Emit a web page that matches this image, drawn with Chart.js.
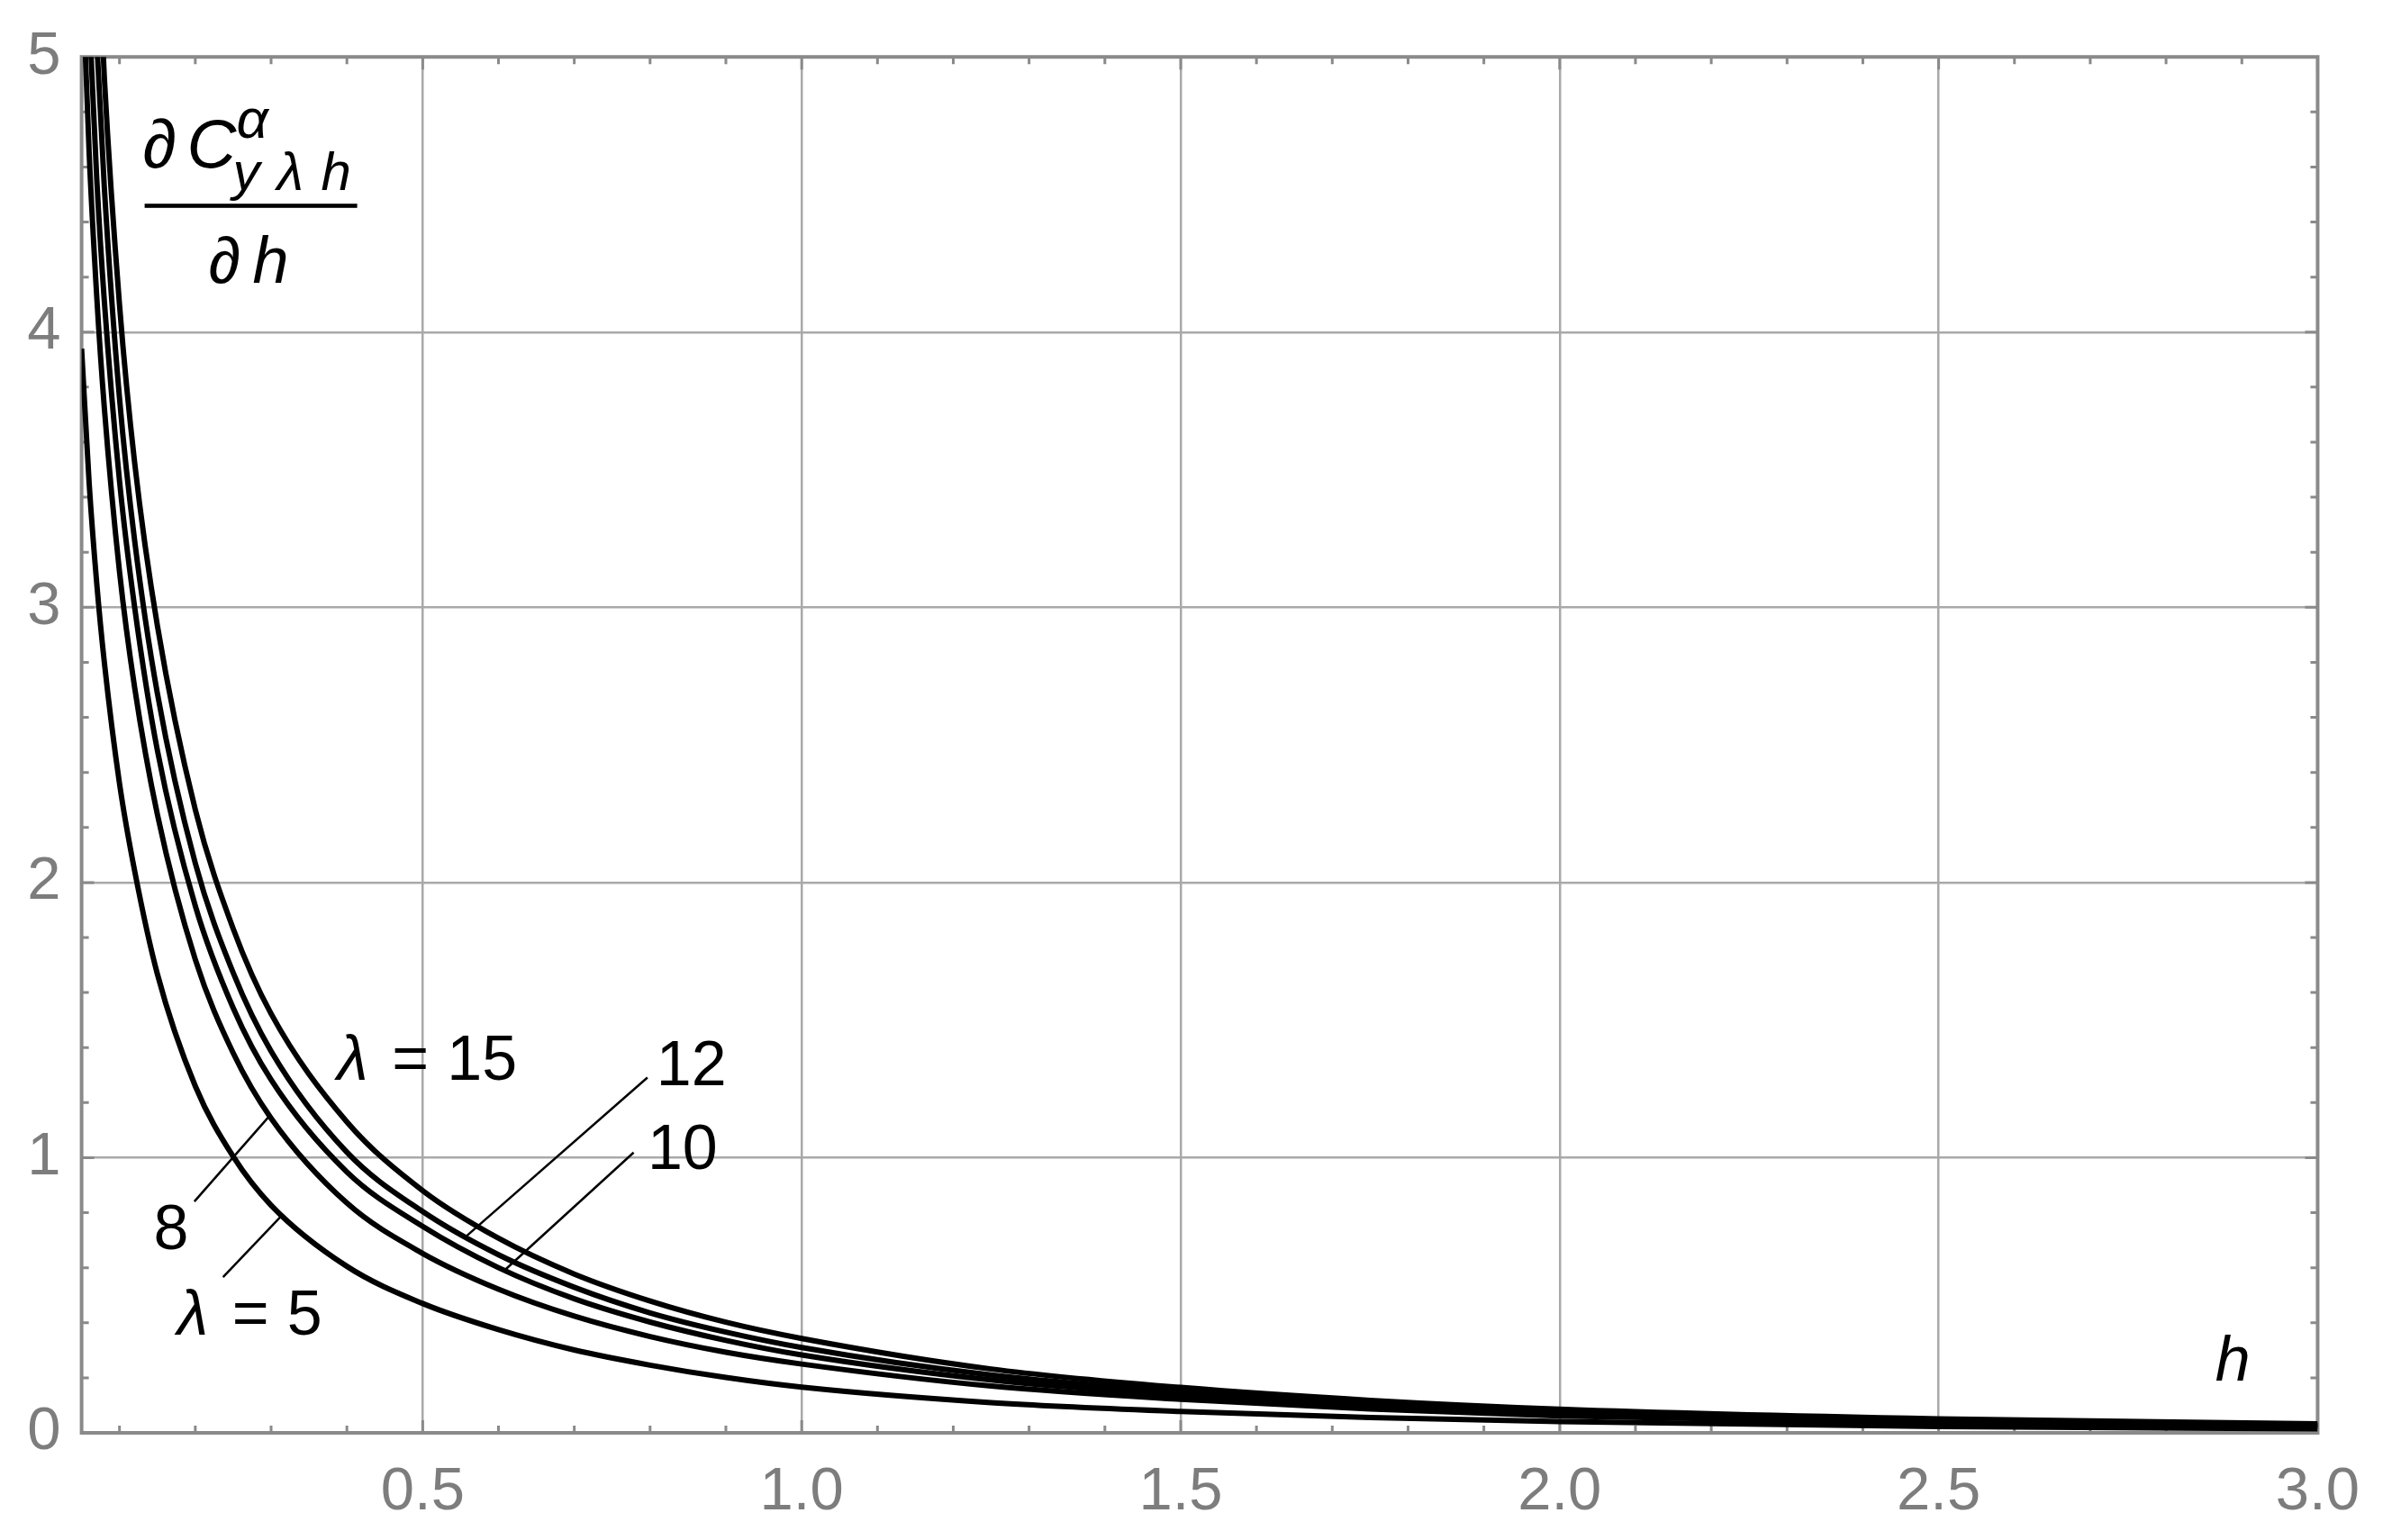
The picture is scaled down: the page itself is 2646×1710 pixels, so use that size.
<!DOCTYPE html>
<html>
<head>
<meta charset="utf-8">
<script src="https://cdn.jsdelivr.net/npm/chart.js@4.4.0/dist/chart.umd.min.js"></script>
<style>
html,body{margin:0;padding:0;background:#fff;}
canvas{display:block;}
</style>
</head>
<body>
<canvas id="derivChart" width="2646" height="1710"></canvas>
<script>
// tick labels
const hTicks = [0.5, 1.0, 1.5, 2.0, 2.5, 3.0];
const yTicks = [0, 1, 2, 3, 4, 5];

// h values where the curves were read
const hVals = [0.05, 0.06, 0.07, 0.08, 0.1, 0.12, 0.15, 0.2, 0.25, 0.3, 0.4, 0.5, 0.6, 0.7, 0.8, 0.9, 1.0, 1.25, 1.5, 1.75, 2.0, 2.5, 3.0];

// derivative values, one array per lambda
const lam5  = [3.94, 3.45, 3.086, 2.80, 2.36, 2.042, 1.667, 1.26, 1.004, 0.827, 0.605, 0.47, 0.375, 0.301, 0.246, 0.201, 0.166, 0.110, 0.078, 0.056, 0.041, 0.023, 0.015];
const lam8  = [5.38, 4.65, 4.129, 3.725, 3.13, 2.708, 2.247, 1.72, 1.38, 1.143, 0.835, 0.652, 0.522, 0.424, 0.35, 0.293, 0.25, 0.170, 0.122, 0.087, 0.0615, 0.036, 0.0233];
const lam10 = [5.98, 5.15, 4.557, 4.113, 3.46, 3.0, 2.48, 1.915, 1.544, 1.283, 0.948, 0.75, 0.60, 0.487, 0.4025, 0.336, 0.283, 0.192, 0.136, 0.098, 0.07, 0.04, 0.0263];
const lam12 = [6.74, 5.77, 5.057, 4.525, 3.76, 3.242, 2.687, 2.07, 1.672, 1.387, 1.02, 0.804, 0.647, 0.529, 0.436, 0.366, 0.31, 0.21, 0.15, 0.109, 0.078, 0.045, 0.0293];
const lam15 = [7.44, 6.33, 5.53, 4.925, 4.10, 3.525, 2.933, 2.265, 1.832, 1.523, 1.13, 0.88, 0.707, 0.577, 0.479, 0.402, 0.343, 0.232, 0.165, 0.118, 0.086, 0.051, 0.033];

// curve labels: text, greek prefix, anchor (h, y) and leader line ends (h1, y1, h2, y2)
const curveLabels = [
  {num:'15', greek:true,  h:0.387, y:1.284, lead:null},
  {num:'12', greek:false, h:0.8083, y:1.262, lead:[0.7965, 1.291, 0.5576, 0.7146]},
  {num:'10', greek:false, h:0.7965, y:0.9587, lead:[0.7783, 1.0186, 0.6077, 0.590]},
  {num:'8',  greek:false, h:0.145, y:0.668, lead:[0.1988, 0.8405, 0.2984, 1.153]},
  {num:'5',  greek:true,  h:0.176, y:0.3557, lead:[0.2366, 0.5656, 0.3125, 0.785]}
];

const series = [lam5, lam8, lam10, lam12, lam15];

const tickFont = {family:'Liberation Sans', size:67};
const gray = '#7d7d7d';

const framePlugin = {
  id:'frame',
  beforeDatasetsDraw(chart){
    const {ctx, chartArea:a, scales:{x, y}} = chart;
    ctx.save();
    ctx.strokeStyle = '#8a8a8a';
    ctx.lineWidth = 3;
    // x ticks every 0.1 on top and bottom
    for (let k = 1; k <= 30; k++) {
      const px = x.getPixelForValue(k/10);
      const len = k % 5 === 0 ? 14 : 8;
      ctx.beginPath();
      ctx.moveTo(px, a.bottom); ctx.lineTo(px, a.bottom - len);
      ctx.moveTo(px, a.top); ctx.lineTo(px, a.top + len);
      ctx.stroke();
    }
    // y ticks every 0.2 on left and right
    for (let k = 1; k < 25; k++) {
      const py = y.getPixelForValue(k/5);
      const len = k % 5 === 0 ? 14 : 8;
      ctx.beginPath();
      ctx.moveTo(a.left, py); ctx.lineTo(a.left + len, py);
      ctx.moveTo(a.right, py); ctx.lineTo(a.right - len, py);
      ctx.stroke();
    }
    ctx.lineWidth = 4;
    ctx.strokeRect(a.left, a.top, a.right - a.left, a.bottom - a.top);
    ctx.restore();
  },
  afterDatasetsDraw(chart){
    const {ctx, chartArea:a, scales:{x, y}} = chart;
    ctx.save();
    ctx.fillStyle = '#000';
    ctx.strokeStyle = '#000';
    ctx.textBaseline = 'alphabetic';
    ctx.textAlign = 'left';
    const txt = (s, px, py, size, it) => {
      ctx.font = (it ? 'italic ' : '') + size + 'px "Liberation Sans"';
      ctx.fillText(s, px, py);
    };
    // curve labels with leaders
    curveLabels.forEach(l => {
      const px = x.getPixelForValue(l.h), py = y.getPixelForValue(l.y);
      if (l.greek) {
        txt('\u03bb', px, py, 70, true);
        txt('=', px + 61, py, 70, false);
        txt(l.num, px + 122, py, 70, false);
      } else {
        txt(l.num, px, py, 70, false);
      }
      if (l.lead) {
        ctx.lineWidth = 2.5;
        ctx.beginPath();
        ctx.moveTo(x.getPixelForValue(l.lead[0]), y.getPixelForValue(l.lead[1]));
        ctx.lineTo(x.getPixelForValue(l.lead[2]), y.getPixelForValue(l.lead[3]));
        ctx.stroke();
      }
    });
    // axis label h
    txt('h', x.getPixelForValue(2.865), y.getPixelForValue(0.19), 70, true);
    // y axis label as fraction, top left inside the frame
    const L = a.left, T = a.top;
    txt('\u2202', L + 68, T + 123, 76, true);
    txt('C', L + 117, T + 123, 76, true);
    txt('\u03b1', L + 172, T + 90, 62, true);
    txt('y', L + 168, T + 148, 60, true);
    txt('\u03bb', L + 217, T + 148, 60, true);
    txt('h', L + 266, T + 148, 60, true);
    ctx.fillRect(L + 70, T + 163, 236, 4.6);
    txt('\u2202', L + 141, T + 251, 72, true);
    txt('h', L + 190, T + 251, 72, true);
    ctx.restore();
  }
};

new Chart(document.getElementById('derivChart'), {
  type:'line',
  data:{
    datasets: series.map(s => ({
      data: hVals.map((h, i) => ({x:h, y:s[i]})),
      borderColor:'#000',
      borderWidth:6,
      pointRadius:0,
      fill:false,
      cubicInterpolationMode:'monotone',
      clip:0
    }))
  },
  options:{
    responsive:false,
    devicePixelRatio:1,
    animation:false,
    layout:{padding:{top:55, right:68, left:0, bottom:0}},
    plugins:{legend:{display:false}, tooltip:{enabled:false}},
    scales:{
      x:{
        type:'linear',
        min:0.05,
        max:3.0,
        afterBuildTicks: s => { s.ticks = hTicks.map(v => ({value:v})); },
        afterFit: s => { s.height = 119; },
        ticks:{font:tickFont, color:gray, padding:26, maxRotation:0, callback: v => v.toFixed(1)},
        grid:{color:'#a9a9a9', lineWidth:2.5, drawTicks:false},
        border:{display:false}
      },
      y:{
        type:'linear',
        min:0,
        max:5,
        afterBuildTicks: s => { s.ticks = yTicks.map(v => ({value:v})); },
        afterFit: s => { s.width = 90.6; },
        ticks:{font:tickFont, color:gray, padding:23, callback: v => String(v)},
        grid:{color:'#a9a9a9', lineWidth:2.5, drawTicks:false},
        border:{display:false}
      }
    }
  },
  plugins:[framePlugin]
});
</script>
</body>
</html>
